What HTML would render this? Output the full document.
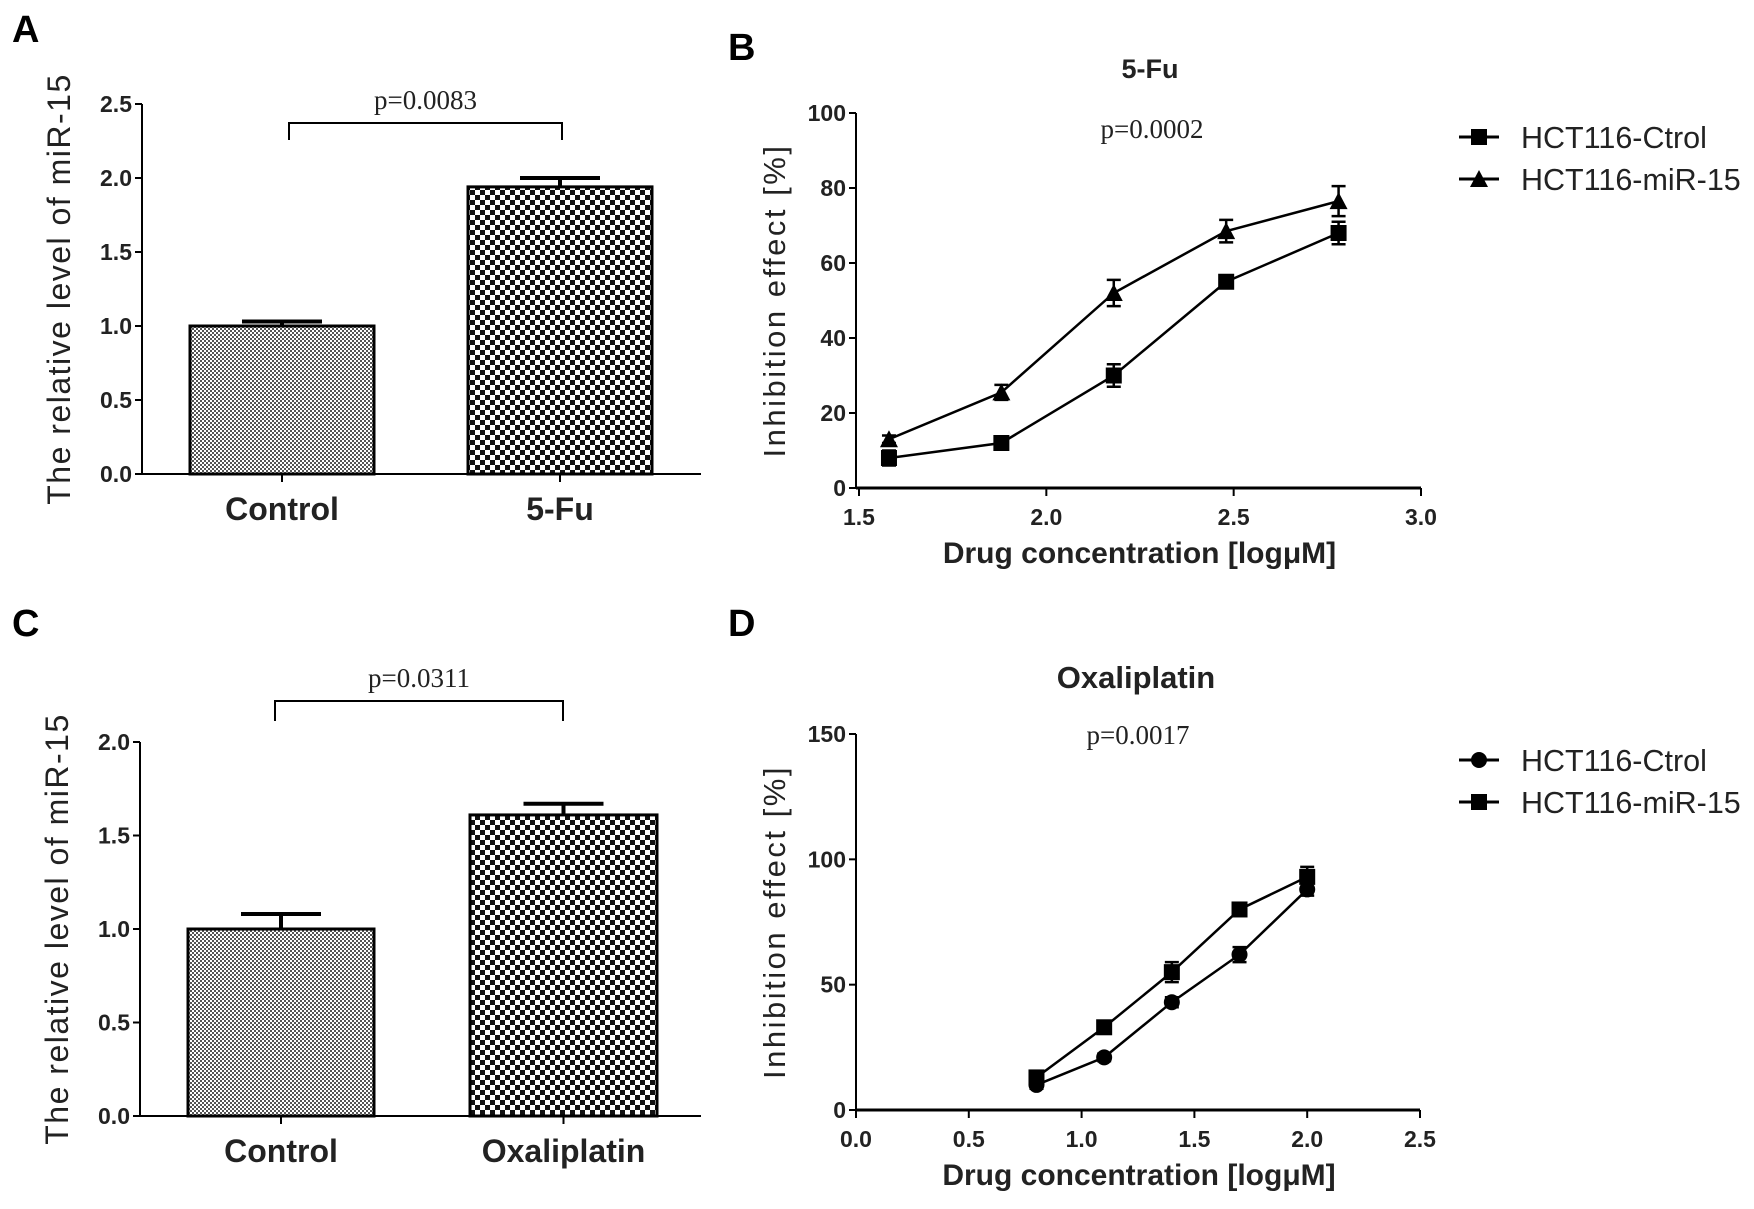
<!DOCTYPE html>
<html><head><meta charset="utf-8"><style>
html,body{margin:0;padding:0;background:#fff;}
svg{display:block;font-family:"Liberation Sans",sans-serif;}
.tick{font-size:23px;font-weight:bold;fill:#222;}
.ser{font-family:"Liberation Serif",serif;font-size:27px;fill:#222;}
</style></head><body>
<svg id="fig" width="1754" height="1209" viewBox="0 0 1754 1209">
<defs>
<pattern id="fine" width="4" height="4" patternUnits="userSpaceOnUse"><rect width="4" height="4" fill="#fff"/><rect width="2" height="2" fill="#555"/><rect x="2" y="2" width="2" height="2" fill="#555"/></pattern>
<pattern id="coarse" width="10" height="10" patternUnits="userSpaceOnUse"><rect width="10" height="10" fill="#fff"/><rect width="5" height="5" fill="#111"/><rect x="5" y="5" width="5" height="5" fill="#111"/></pattern>
</defs>
<text x="12" y="42" font-size="38" font-weight="bold">A</text>
<text x="728" y="60" font-size="38" font-weight="bold">B</text>
<text x="12" y="636" font-size="38" font-weight="bold">C</text>
<text x="728" y="636" font-size="38" font-weight="bold">D</text>
</svg>
<script>
// Panel A data
const catsA = ["Control","5-Fu"];
const valsA = [1.0, 1.94];
const errA = [0.03, 0.06];
const ticksA = [0,0.5,1.0,1.5,2.0,2.5];
// Panel C data
const catsC = ["Control","Oxaliplatin"];
const valsC = [1.0, 1.61];
const errC = [0.08, 0.06];
const ticksC = [0,0.5,1.0,1.5,2.0];
// Panel B data
const xB = [1.58,1.88,2.18,2.48,2.78];
const ctrlB = [8,12,30,55,68];
const ctrlBerr = [2,1.5,3,1.5,3];
const mirB = [13,25.5,52,68.5,76.5];
const mirBerr = [1,2,3.5,3,4];
const xTicksB = [1.5,2.0,2.5,3.0];
const yTicksB = [0,20,40,60,80,100];
// Panel D data
const xD = [0.8,1.1,1.4,1.7,2.0];
const ctrlD = [10,21,43,62,88];
const ctrlDerr = [1.5,1.5,2,3,2.5];
const mirD = [13,33,55,80,93];
const mirDerr = [2,2,4,2.5,4];
const xTicksD = [0,0.5,1.0,1.5,2.0,2.5];
const yTicksD = [0,50,100,150];

const NS="http://www.w3.org/2000/svg";
const svg=document.getElementById('fig');
function el(tag,attrs,parent,text){const e=document.createElementNS(NS,tag);for(const k in attrs)e.setAttribute(k,attrs[k]);if(text!==undefined)e.textContent=text;(parent||svg).appendChild(e);return e;}

function barPanel(o){
  const g=el('g',{});
  
  
  const y=v=>o.y0-(v/o.ymax)*(o.y0-o.ytop);
  o.vals.forEach((v,i)=>{
    const x1=o.bars[i][0],x2=o.bars[i][1],cx=(x1+x2)/2;
    const r=el('rect',{x:x1,y:y(v),width:x2-x1,height:o.y0-y(v),fill:i==0?'url(#fine)':'url(#coarse)',stroke:'#000','stroke-width':3},g);
    
    
    const e=el('path',{d:`M${cx} ${y(v)}V${y(v+o.errs[i])}M${cx-40} ${y(v+o.errs[i])}H${cx+40}`,stroke:'#000','stroke-width':4,fill:'none'},g);
    
    
    const t=el('text',{x:cx,y:o.y0+46,'text-anchor':'middle','font-size':32,'font-weight':'bold',fill:'#222'},g,o.cats[i]);
    
    
    el('line',{x1:cx,x2:cx,y1:o.y0,y2:o.y0+8,stroke:'#000','stroke-width':2},g);
  });
  el('line',{x1:o.ax,x2:o.ax,y1:o.ytop,y2:o.y0,stroke:'#000','stroke-width':2},g);
  el('line',{x1:o.ax,x2:o.xend,y1:o.y0,y2:o.y0,stroke:'#000','stroke-width':2},g);
  o.ticks.forEach(t=>{
    el('line',{x1:o.ax-7,x2:o.ax,y1:y(t),y2:y(t),stroke:'#000','stroke-width':2},g);
    const l=el('text',{x:o.ax-10,y:y(t)+8,'text-anchor':'end',class:'tick'},g,t.toFixed(1));
    
    
  });
  const yt=el('text',{transform:`translate(${o.ax-72},${(o.y0+o.ytop)/2}) rotate(-90)`,'text-anchor':'middle','font-size':32,'letter-spacing':1.5,fill:'#222'},g,'The relative level of miR-15');
  
  
  const b=el('path',{d:`M${o.br[0]} ${o.br[3]}V${o.br[2]}H${o.br[1]}V${o.br[3]}`,stroke:'#000','stroke-width':2,fill:'none'},g);
  
  
  const p=el('text',{x:(o.br[0]+o.br[1])/2,y:o.br[2]-14,'text-anchor':'middle',class:'ser'},g,o.p);
  
  
}
barPanel({name:'panel-a-bar-chart',cats:catsA,vals:valsA,errs:errA,ticks:ticksA,ymax:2.5,y0:474,ytop:104,ax:142,xend:701,bars:[[190,374],[468,652]],br:[289,562,123,140],p:'p=0.0083'});
barPanel({name:'panel-c-bar-chart',cats:catsC,vals:valsC,errs:errC,ticks:ticksC,ymax:2.0,y0:1116,ytop:742,ax:140,xend:701,bars:[[188,374],[470,657]],br:[275,563,701,721],p:'p=0.0311'});

function marker(g,type,x,y,s){
  let m;
  if(type=='square') m=el('rect',{x:x-s,y:y-s,width:2*s,height:2*s,fill:'#000'},g);
  else if(type=='circle') m=el('circle',{cx:x,cy:y,r:s,fill:'#000'},g);
  else m=el('path',{d:`M${x} ${y-s-1}L${x+s+1} ${y+s}H${x-s-1}Z`,fill:'#000'},g);
  return m;
}
function linePanel(o){
  const g=el('g',{});
  
  
  const X=v=>o.x0px+(v-o.xmin)/(o.xmax-o.xmin)*(o.x1px-o.x0px);
  const Y=v=>o.y0-(v/o.ymax)*(o.y0-o.ytop);
  el('line',{x1:o.ax,x2:o.ax,y1:o.ytop,y2:o.y0,stroke:'#000','stroke-width':2},g);
  el('line',{x1:o.ax,x2:o.x1px,y1:o.y0,y2:o.y0,stroke:'#000','stroke-width':3},g);
  o.yt.forEach(t=>{
    el('line',{x1:o.ax-7,x2:o.ax,y1:Y(t),y2:Y(t),stroke:'#000','stroke-width':2},g);
    const l=el('text',{x:o.ax-10,y:Y(t)+8,'text-anchor':'end',class:'tick'},g,String(t));
    
    
  });
  o.xt.forEach(t=>{
    el('line',{x1:X(t),x2:X(t),y1:o.y0,y2:o.y0+8,stroke:'#000','stroke-width':2},g);
    const l=el('text',{x:X(t),y:o.y0+37,'text-anchor':'middle',class:'tick'},g,t.toFixed(1));
    
    
  });
  o.series.forEach((s,si)=>{
    const sg=el('g',{},g);
    
    
    el('polyline',{points:o.x.map((v,i)=>X(v)+','+Y(s.v[i])).join(' '),fill:'none',stroke:'#000','stroke-width':2.5},sg);
    o.x.map((v,i)=>{
      const cx=X(v),e=s.e[i];
      el('path',{d:`M${cx} ${Y(s.v[i]-e)}V${Y(s.v[i]+e)}M${cx-7} ${Y(s.v[i]-e)}H${cx+7}M${cx-7} ${Y(s.v[i]+e)}H${cx+7}`,stroke:'#000','stroke-width':2.5,fill:'none'},sg);
      const m=marker(sg,s.m,cx,Y(s.v[i]),8);
      
      
    });
    const ly=o.legY+si*42;
    const lg=el('g',{},g);
    
    
    el('line',{x1:1459,x2:1499,y1:ly,y2:ly,stroke:'#000','stroke-width':3},lg);
    marker(lg,s.m,1479,ly,8);
    el('text',{x:1521,y:ly+11,'font-size':30.5,fill:'#222'},lg,s.label);
  });
  const tt=el('text',{x:o.titleX,y:o.titleY,'text-anchor':'middle','font-size':o.titleSize,'font-weight':'bold',fill:'#222'},g,o.title);
  
  
  const p=el('text',{x:o.titleX+2,y:o.pY,'text-anchor':'middle',class:'ser'},g,o.p);
  
  
  const xt=el('text',{x:(o.ax+o.x1px)/2+1,y:o.y0+75,'text-anchor':'middle','font-size':30,'font-weight':'bold',fill:'#222'},g,'Drug concentration [logμM]');
  
  
  const yt=el('text',{transform:`translate(${o.ax-71},${(o.y0+o.ytop)/2}) rotate(-90)`,'text-anchor':'middle','font-size':31,'letter-spacing':2.5,fill:'#222'},g,'Inhibition effect [%]');
  
  
}
linePanel({name:'panel-b-line-chart',x:xB,series:[{label:'HCT116-Ctrol',v:ctrlB,e:ctrlBerr,m:'square'},{label:'HCT116-miR-15',v:mirB,e:mirBerr,m:'triangle'}],
  xt:xTicksB,yt:yTicksB,xmin:1.5,xmax:3.0,ymax:100,x0px:859,x1px:1421,ax:856,y0:488,ytop:113,legY:137,title:'5-Fu',titleSize:27,titleX:1150,titleY:78,pY:138,p:'p=0.0002'});
linePanel({name:'panel-d-line-chart',x:xD,series:[{label:'HCT116-Ctrol',v:ctrlD,e:ctrlDerr,m:'circle'},{label:'HCT116-miR-15',v:mirD,e:mirDerr,m:'square'}],
  xt:xTicksD,yt:yTicksD,xmin:0,xmax:2.5,ymax:150,x0px:856,x1px:1420,ax:856,y0:1110,ytop:734,legY:760,title:'Oxaliplatin',titleSize:31,titleX:1136,titleY:688,pY:744,p:'p=0.0017'});
</script>
</body></html>
